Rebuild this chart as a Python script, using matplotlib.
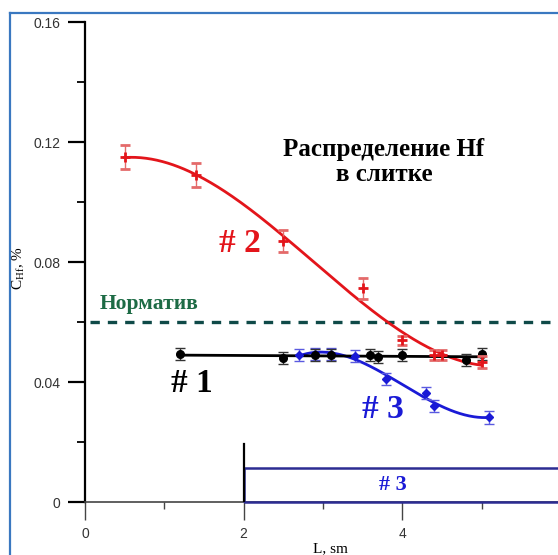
import numpy as np
import matplotlib.pyplot as plt
from matplotlib.patches import Rectangle
from matplotlib.lines import Line2D

# sample #1 (black)
x1 = [1.2, 2.5, 2.9, 3.1, 3.6, 3.7, 4.0, 4.8, 5.0]
y1 = [0.0492, 0.0479, 0.0490, 0.0490, 0.0489, 0.0482, 0.0489, 0.0473, 0.0493]
e1 = [0.002, 0.002, 0.002, 0.002, 0.002, 0.002, 0.002, 0.002, 0.002]

# sample #2 (red)
x2 = [0.5, 1.4, 2.5, 3.5, 4.0, 4.4, 4.5, 5.0]
y2 = [0.115, 0.109, 0.0871, 0.0712, 0.054, 0.049, 0.049, 0.0468]
e2 = [0.004, 0.004, 0.0036, 0.0036, 0.0015, 0.0018, 0.0018, 0.002]

# sample #3 (blue)
x3 = [2.7, 2.9, 3.1, 3.4, 3.8, 4.3, 4.4, 5.1]
y3 = [0.0489, 0.0495, 0.0495, 0.0487, 0.0411, 0.0362, 0.032, 0.0282]
e3 = [0.002, 0.002, 0.002, 0.002, 0.002, 0.002, 0.002, 0.0022]

norm_level = 0.06
ingot_start = 2.0
ingot_height = 0.0113

plt.rcParams['font.family'] = ['Liberation Sans', 'DejaVu Sans']
plt.rcParams['mathtext.fontset'] = 'custom'
plt.rcParams['mathtext.rm'] = 'Liberation Serif'

fig = plt.figure(figsize=(5.58, 5.55), dpi=100)
ax = fig.add_axes([85 / 558, 53 / 555, 475.8 / 558, 480 / 555])
ax.set_xlim(0, 6)
ax.set_ylim(0, 0.16)

red = '#e3151b'
blue = '#1a1ad6'

# fitted curves
p2 = np.polyfit(x2, y2, 3)
xx2 = np.linspace(min(x2), max(x2), 200)
ax.plot(xx2, np.polyval(p2, xx2), color=red, lw=2.0, zorder=3)

p3 = np.polyfit(x3, y3, 3)
xx3 = np.linspace(min(x3), max(x3), 200)
ax.plot(xx3, np.polyval(p3, xx3), color=blue, lw=2.0, zorder=3)

p1 = np.polyfit(x1, y1, 1)
xx1 = np.linspace(min(x1), max(x1), 50)
ax.plot(xx1, np.polyval(p1, xx1), color='black', lw=2.0, zorder=4)

ax.errorbar(x3, y3, yerr=e3, fmt='D', color=blue, ms=4, ecolor='#5a5ae0',
            elinewidth=1, capsize=3.5, capthick=1, zorder=5)
ax.errorbar(x1, y1, yerr=e1, fmt='o', color='black', ms=5.5, ecolor='#333333',
            elinewidth=1, capsize=3.5, capthick=1, zorder=6)
ax.errorbar(x2, y2, yerr=e2, fmt='+', color=red, ms=7, mew=2, ecolor='#e46a6a',
            elinewidth=1, capsize=3.5, capthick=1, zorder=7)

# norm line
ax.plot([0.06, 6.0], [norm_level, norm_level], color='#0f4a48', lw=2.4,
        ls=(0, (2.8, 2.4)), zorder=2)
ax.text(0.19, norm_level + 0.0025, 'Норматив', color='#1d6b45', fontsize=15.5,
        fontweight='bold', family='Liberation Serif', va='bottom', ha='left')

# ingot #3 outline
ax.add_patch(Rectangle((ingot_start, 0), 6.5 - ingot_start, ingot_height,
                       fill=False, edgecolor='#2c2c92', lw=1.8, clip_on=False, zorder=8))
ax.plot([ingot_start, ingot_start], [0, 0.0193], color='black', lw=1.6, zorder=8)
ax.text(3.88, 0.0057, '# 3', color=blue, fontsize=16, fontweight='bold',
        family='Liberation Serif', ha='center', va='center')

# labels on the plot
ax.text(3.77, 0.1133, 'Распределение Hf\nв слитке', fontsize=18, fontweight='bold',
        family='Liberation Serif', ha='center', va='center', linespacing=1.15)
ax.text(1.95, 0.086, '# 2', color=red, fontsize=24, fontweight='bold',
        family='Liberation Serif', ha='center', va='center')
ax.text(1.35, 0.0395, '# 1', color='black', fontsize=24, fontweight='bold',
        family='Liberation Serif', ha='center', va='center')
ax.text(3.75, 0.0308, '# 3', color=blue, fontsize=24, fontweight='bold',
        family='Liberation Serif', ha='center', va='center')

# axes styling
for s in ['top', 'right']:
    ax.spines[s].set_visible(False)
ax.spines['left'].set_linewidth(1.6)
ax.spines['bottom'].set_linewidth(1.2)
ax.spines['bottom'].set_color('#444444')

ax.set_yticks([0, 0.04, 0.08, 0.12, 0.16])
ax.set_yticklabels(['0', '0.04', '0.08', '0.12', '0.16'])
ax.set_yticks([0.02, 0.06, 0.10, 0.14], minor=True)
ax.set_xticks([0, 2, 4, 6])
ax.set_xticks([1, 3, 5], minor=True)
ax.tick_params(axis='y', which='major', length=12, width=1.6, pad=6,
               labelsize=10, labelcolor='#333333')
ax.tick_params(axis='y', which='minor', length=6, width=1.3)
ax.tick_params(axis='x', which='major', length=13, width=1.0, pad=5,
               labelsize=10, labelcolor='#333333', color='#444444')
ax.tick_params(axis='x', which='minor', length=5, width=1.0, color='#444444')

fig.text(19 / 558, 1 - 268 / 555, r'C$_{\mathrm{Hf}}$, %', rotation=90,
         family='Liberation Serif', fontsize=11, ha='center', va='center')
fig.text(330 / 558, 1 - 549 / 555, 'L, sm', family='Liberation Serif',
         fontsize=11, ha='center', va='center')

# slide frame
fig.add_artist(Line2D([10 / 558, 10 / 558], [0, 1 - 13 / 555],
                      color='#3a78c0', lw=1.6, transform=fig.transFigure))
fig.add_artist(Line2D([10 / 558, 1], [1 - 13 / 555, 1 - 13 / 555],
                      color='#3a78c0', lw=1.6, transform=fig.transFigure))

fig.savefig('out.png', dpi=100)
